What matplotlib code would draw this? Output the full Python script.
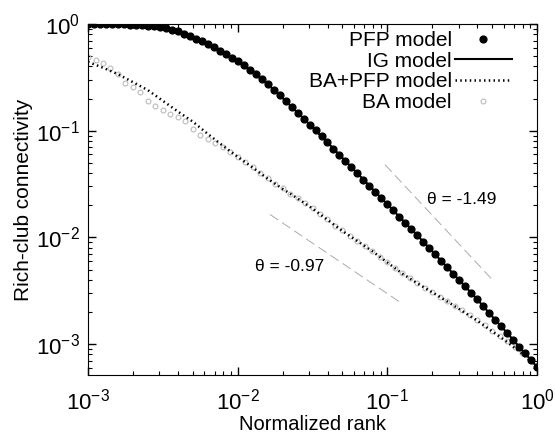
import matplotlib
matplotlib.use("Agg")
import matplotlib.pyplot as plt
import numpy as np

plt.rcParams["font.family"] = ["Liberation Sans", "DejaVu Sans"]
plt.rcParams["mathtext.fontset"] = "custom"
plt.rcParams["mathtext.rm"] = "Liberation Sans"
plt.rcParams["mathtext.it"] = "Liberation Sans:italic"

# PFP model: log10 normalized rank (step 0.04) and log10 rich-club connectivity
pfp_rank_log = np.round(np.arange(-3.0, 0.001, 0.04), 2)
pfp_log = [0.0, 0.0, 0.0, -0.001, -0.001, -0.002, -0.004, -0.005, -0.008, -0.011,
           -0.016, -0.022, -0.030, -0.041, -0.054, -0.070, -0.090, -0.113, -0.137, -0.162,
           -0.190, -0.219, -0.249, -0.281, -0.314, -0.350, -0.388, -0.429, -0.472, -0.517,
           -0.565, -0.615, -0.668, -0.722, -0.776, -0.830, -0.886, -0.942, -0.998, -1.054,
           -1.110, -1.168, -1.226, -1.284, -1.342, -1.400, -1.458, -1.516, -1.574, -1.632,
           -1.690, -1.748, -1.806, -1.864, -1.922, -1.980, -2.040, -2.100, -2.160, -2.220,
           -2.280, -2.340, -2.400, -2.460, -2.520, -2.580, -2.644, -2.708, -2.771, -2.833,
           -2.895, -2.959, -3.023, -3.087, -3.151, -3.215]

# IG model and BA+PFP model, step 0.1
line_rank_log = np.round(np.arange(-3.0, 0.001, 0.1), 1)
ig_log = [0.0, 0.0, -0.002, -0.006, -0.016, -0.035, -0.07, -0.125, -0.19, -0.265,
          -0.35, -0.45, -0.565, -0.695, -0.83, -0.97, -1.11, -1.255, -1.40, -1.545,
          -1.69, -1.835, -1.98, -2.13, -2.28, -2.43, -2.58, -2.74, -2.895, -3.055,
          -3.215]
bapfp_log = [-0.355, -0.41, -0.47, -0.545, -0.62, -0.72, -0.82, -0.915, -1.03, -1.14,
             -1.245, -1.345, -1.45, -1.545, -1.635, -1.73, -1.835, -1.94, -2.035, -2.13,
             -2.235, -2.34, -2.43, -2.515, -2.60, -2.69, -2.78, -2.88, -2.98, -3.09,
             -3.206]

# BA model, step 0.05
ba_rank_log = np.round(np.arange(-3.0, 0.001, 0.05), 2)
ba_log = [-0.31, -0.34, -0.37, -0.41, -0.47, -0.55, -0.59, -0.64, -0.72, -0.77,
          -0.81, -0.845, -0.87, -0.91, -0.98, -1.04, -1.08, -1.12, -1.15, -1.20,
          -1.25, -1.295, -1.34, -1.40, -1.445, -1.50, -1.54, -1.59, -1.635, -1.68,
          -1.725, -1.785, -1.83, -1.89, -1.935, -1.985, -2.03, -2.08, -2.125, -2.18,
          -2.23, -2.29, -2.335, -2.385, -2.425, -2.47, -2.51, -2.555, -2.595, -2.64,
          -2.685, -2.73, -2.775, -2.825, -2.875, -2.925, -2.975, -3.03, -3.085, -3.14,
          -3.2]

# reference slopes: endpoints (log10 rank, log10 connectivity)
slope_a_x = [-1.016, -0.295]
slope_a_y = [-1.318, -2.402]
slope_b_x = [-1.784, -0.916]
slope_b_y = [-1.785, -2.607]

fig = plt.figure(figsize=(5.55, 4.34), dpi=100)
ax = fig.add_axes([0.1586, 0.1359, 0.809, 0.8088])

ax.plot(10.0 ** ba_rank_log, 10.0 ** np.array(ba_log), "o", mfc="none",
        mec="#bbbbbb", ms=3.5, mew=0.8, label="BA model", zorder=2)
ax.plot(10.0 ** line_rank_log, 10.0 ** np.array(bapfp_log), color="black", lw=1.8,
        ls=(0, (0.6, 1.3)), label="BA+PFP model", zorder=3)
ax.plot(10.0 ** line_rank_log, 10.0 ** np.array(ig_log), color="black", lw=1.5,
        label="IG model", zorder=4)
ax.plot(10.0 ** pfp_rank_log, 10.0 ** np.array(pfp_log), "o", color="black", ms=4.9,
        label="PFP model", zorder=5)

ax.plot(10.0 ** np.array(slope_a_x), 10.0 ** np.array(slope_a_y), color="#aaaaaa",
        lw=0.7, dashes=(10, 5))
ax.plot(10.0 ** np.array(slope_b_x), 10.0 ** np.array(slope_b_y), color="#aaaaaa",
        lw=0.7, dashes=(10, 5))
ax.text(0.315, 0.0227, "θ = -1.49", fontsize=12.5, va="center", ha="center")
ax.text(0.0223, 0.00536, "θ = -0.97", fontsize=12.5, va="center", ha="center")

ax.set_xscale("log")
ax.set_yscale("log")
ax.set_xlim(1e-3, 1)
ax.set_ylim(10 ** -3.29, 1)

ax.tick_params(which="both", direction="in", top=True, right=True, labelsize=16)
ax.tick_params(which="major", length=6, width=1)
ax.tick_params(which="minor", length=3, width=0.8)
ax.tick_params(axis="x", pad=10)
ax.tick_params(axis="y", pad=6)
ax.set_xlabel("Normalized rank", fontsize=14.5, va="bottom")
ax.xaxis.set_label_coords(0.5, -0.167)
ax.set_ylabel("Rich-club connectivity", fontsize=15, labelpad=2)

handles, labels = ax.get_legend_handles_labels()
order = [3, 2, 1, 0]
ax.legend([handles[i] for i in order], [labels[i] for i in order],
          loc="upper right", bbox_to_anchor=(0.944, 0.98), frameon=False,
          markerfirst=False, fontsize=15, handlelength=2.74, handletextpad=0.15,
          labelspacing=0.08, borderaxespad=0.0, borderpad=0.0, numpoints=1)

fig.savefig("out.png", dpi=100)
